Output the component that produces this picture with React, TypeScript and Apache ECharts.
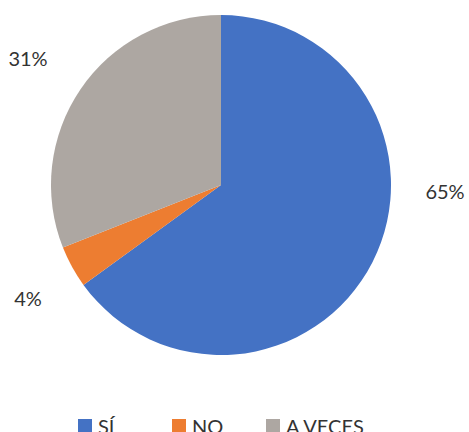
import React, { useEffect, useRef } from "react";
import * as echarts from "echarts";

const categories = ["SÍ", "NO", "A VECES"];
const values = [65, 4, 31];
const colors = ["#4472C4", "#ED7D31", "#ADA7A2"];
const labelPositions: [number, number][] = [
  [445, 191],
  [28, 298],
  [28, 58],
];
const legendLefts = [78, 172, 266];

export default function App() {
  const ref = useRef<HTMLDivElement>(null);
  useEffect(() => {
    if (!ref.current) return;
    const chart = echarts.init(ref.current, null, { renderer: "svg" });
    const font = "Lato, 'Noto Sans', sans-serif";
    chart.setOption({
      animation: false,
      color: colors,
      legend: categories.map((c, i) => ({
        data: [c],
        left: legendLefts[i],
        top: 416,
        itemWidth: 14,
        itemHeight: 14,
        itemGap: 0,
        padding: 0,
        icon: "rect",
        selectedMode: false,
        textStyle: { fontFamily: font, fontSize: 20, color: "#333333", padding: [0, 0, 0, 1] },
      })),
      series: [
        {
          type: "pie",
          center: [221, 185],
          radius: [0, 170],
          startAngle: 90,
          clockwise: true,
          avoidLabelOverlap: false,
          minShowLabelAngle: 0,
          data: categories.map((c, i) => ({ name: c, value: values[i] })),
          label: {
            show: true,
            position: "outside",
            formatter: (p: any) => p.value + "%",
            fontFamily: font,
            fontSize: 20,
            color: "#333333",
            overflow: "none",
            width: 80,
          },
          labelLine: { show: false },
          labelLayout: (p: any) => ({
            x: labelPositions[p.dataIndex][0],
            y: labelPositions[p.dataIndex][1],
            align: "center",
            verticalAlign: "middle",
            hideOverlap: false,
          }),
          emphasis: { disabled: true },
          itemStyle: { borderWidth: 0 },
        },
      ],
    });
    return () => chart.dispose();
  }, []);
  return <div ref={ref} style={{ width: 469, height: 432, position: "absolute", left: 0, top: 0 }} />;
}
